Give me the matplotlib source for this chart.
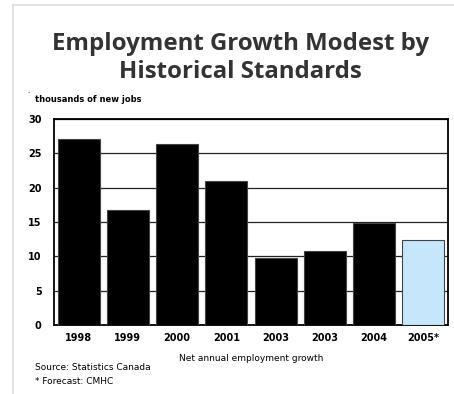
from matplotlib import pyplot as plt
from matplotlib.lines import Line2D

years = ['1998', '1999', '2000', '2001', '2003', '2003', '2004', '2005*']
jobs = [27.1, 16.7, 26.4, 20.9, 9.8, 10.8, 14.8, 12.4]
colors = ['black'] * 7 + ['#c6e6fb']
yticks = [0, 5, 10, 15, 20, 25, 30]

fig = plt.figure(figsize=(4.54, 3.94), dpi=100)
ax = fig.add_axes([54 / 454, 1 - 325 / 394, 394 / 454, 206 / 394])

x = range(len(years))
ax.bar(x, jobs, width=0.85, color=colors, edgecolor='#444444', linewidth=0.8, zorder=3)
ax.set_xlim(-0.5, len(years) - 0.5)
ax.set_ylim(0, 30)
ax.set_yticks(yticks)
ax.set_xticks(list(x))
ax.set_xticklabels(years, fontsize=7, fontweight='bold')
ax.set_yticklabels([str(t) for t in yticks], fontsize=7, fontweight='bold')
ax.tick_params(length=0)
ax.tick_params(axis='y', pad=9)
ax.tick_params(axis='x', pad=6)
ax.yaxis.grid(True, color='#222222', linewidth=0.9, zorder=0)
for s in ax.spines.values():
    s.set_linewidth(1.3)
ax.set_xlabel('Net annual employment growth', fontsize=6.5, labelpad=8)

fig.text(0.53, 1 - 58 / 394, 'Employment Growth Modest by\nHistorical Standards', ha='center', va='center',
         fontsize=17.3, fontweight='bold', color='#333333', family='Open Sans', linespacing=1.25)
fig.text(35 / 454, 1 - 99 / 394, 'thousands of new jobs', fontsize=6, fontweight='bold', va='center')
fig.text(27 / 454, 1 - 91 / 394, '.', fontsize=5, va='center')
fig.text(35 / 454, 1 - 367 / 394, 'Source: Statistics Canada', fontsize=6.5, va='center')
fig.text(35 / 454, 1 - 381 / 394, '* Forecast: CMHC', fontsize=6.5, va='center')

# thin grey frame at top and left of the page
fig.add_artist(Line2D([13 / 454, 13 / 454], [0, 1 - 5 / 394], color='#dddddd', linewidth=1.2))
fig.add_artist(Line2D([13 / 454, 1], [1 - 5 / 394, 1 - 5 / 394], color='#dddddd', linewidth=1.2))

fig.savefig('out.png', dpi=100)
